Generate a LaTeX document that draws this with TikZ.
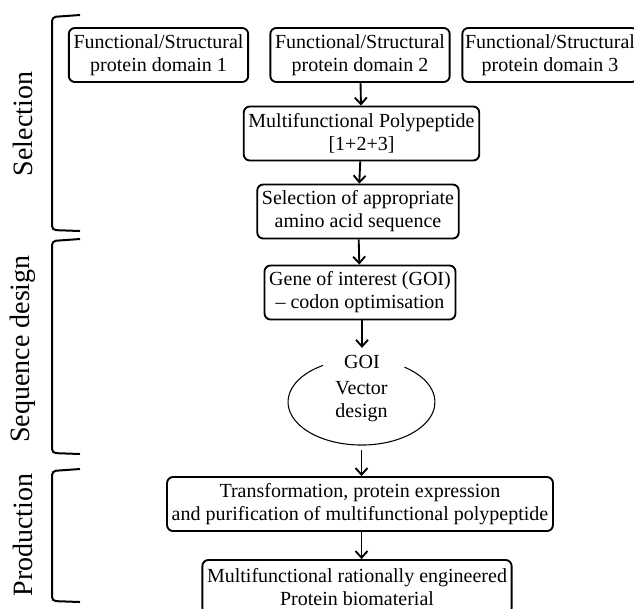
\documentclass[tikz,border=0pt]{standalone}
\usepackage{fontspec}
\setmainfont{Liberation Serif}
\usetikzlibrary{arrows.meta}

\tikzset{
  stagebox/.style={draw, line width=1.4pt, rounded corners=4.5pt, align=center,
    inner xsep=3.5pt, minimum height=40.5pt, font=\fontsize{15}{17.3}\selectfont},
  flow/.style={line width=1.4pt, -{Straight Barb[length=5pt,width=9pt,line width=1.4pt]}},
  bracket/.style={line width=1.5pt, rounded corners=3pt},
  phase/.style={rotate=90, font=\fontsize{21}{24}\selectfont},
  plain/.style={align=center, font=\fontsize{15}{17.3}\selectfont}
}

\begin{document}
\begin{tikzpicture}[x=0.75pt,y=0.75pt]
    \useasboundingbox (0,0) rectangle (634,-608);

    %phases
    \draw[bracket] (80,-15) -- (52,-17) -- (52,-230) -- (80,-231);
    \draw[bracket] (80,-239) -- (52,-241) -- (52,-453) -- (80,-454);
    \draw[bracket] (80,-469) -- (52,-471) -- (52,-601) -- (80,-602);
    \node[phase] (selection) at (23,-124) {Selection};
    \node[phase] (seqdesign) at (23,-349) {Sequence design};
    \node[phase] (production) at (23,-535) {Production};

    %domains
    \node[stagebox] (dom1) at (158.5,-55) {Functional/Structural\\protein domain 1};
    \node[stagebox] (dom2) at (360,-55) {Functional/Structural\\protein domain 2};
    \node[stagebox, inner xsep=2pt] (dom3) at (550,-55) {Functional/Structural\\protein domain 3};

    %steps
    \node[stagebox] (poly) at (361.5,-133.5) {Multifunctional Polypeptide\\{}[1+2+3]};
    \node[stagebox] (aaseq) at (358,-211.5) {Selection of appropriate\\amino acid sequence};
    \node[stagebox] (gene) at (360,-292.5) {Gene of interest (GOI)\\-- codon optimisation};

    %vector
    \node[plain] (vector) at (361.5,-402) {Vector\\design};
    \node[plain, inner sep=1pt] (goi) at (362,-361.5) {GOI};
    \draw[line width=0.8pt] ([shift={(-38.5,36.6)}]vector.center)
      arc[start angle=121.6, end angle=414.2, x radius=55.1pt, y radius=32.25pt];

    \node[stagebox] (expr) at (360,-504) {Transformation, protein expression\\and purification of multifunctional polypeptide};
    \node[stagebox] (biomat) at (357,-587) {Multifunctional rationally engineered\\Protein biomaterial};

    %arrows
    \draw[flow] (dom2) -- (poly);
    \draw[flow] (poly) -- (aaseq);
    \draw[flow] (aaseq) -- (gene);
    \draw[flow, shorten >=4pt] (gene.south -| goi) -- (goi.north);
    \draw[flow] ([yshift=-36pt]vector.center) -- (expr.north -| vector);
    \draw[flow] (expr.south -| vector) -- (biomat.north -| vector);
\end{tikzpicture}
\end{document}
